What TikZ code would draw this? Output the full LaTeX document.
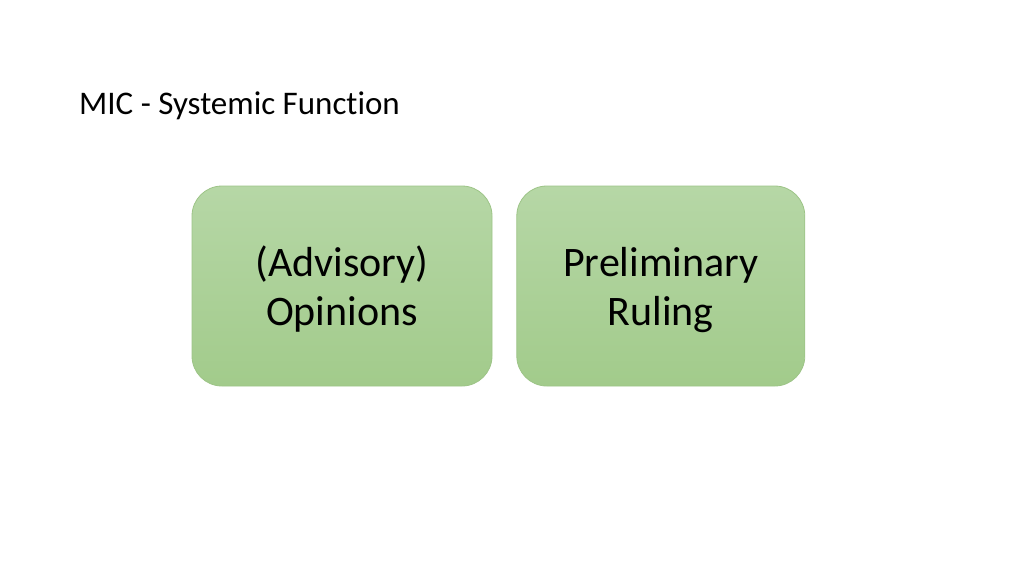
\documentclass[tikz,border=0pt]{standalone}
\usepackage{fontspec}
\setmainfont[Ligatures=NoCommon]{Carlito}
\usetikzlibrary{positioning}

\definecolor{boxtop}{HTML}{B6D7A6}
\definecolor{boxbottom}{HTML}{A2CB8B}
\definecolor{boxline}{HTML}{9DC487}

\tikzstyle{block} = [rectangle, draw=boxline, line width=0.8pt, rounded corners=30pt, top color=boxtop, bottom color=boxbottom, minimum height=200pt, align=center, text depth=0pt, font=\fontsize{42}{49}\selectfont]
\tikzstyle{heading} = [anchor=west, inner sep=0pt, font=\fontsize{33}{40}\selectfont]

\begin{document}
\begin{tikzpicture}[x=1pt, y=-1pt]
        \useasboundingbox (0,0) rectangle (1024,576);
        \tikzset{node distance = 0.75cm and 24pt}
        % Title
        \node (title) at (79,106) [heading] {MIC - Systemic Function};
        % The two function boxes
        \node (advisory) at (342,286) [block, minimum width=300pt] {(Advisory)\\Opinions};
        \node (ruling) [block, minimum width=288pt, right=of advisory] {Preliminary\\Ruling};
    \end{tikzpicture}
\end{document}
